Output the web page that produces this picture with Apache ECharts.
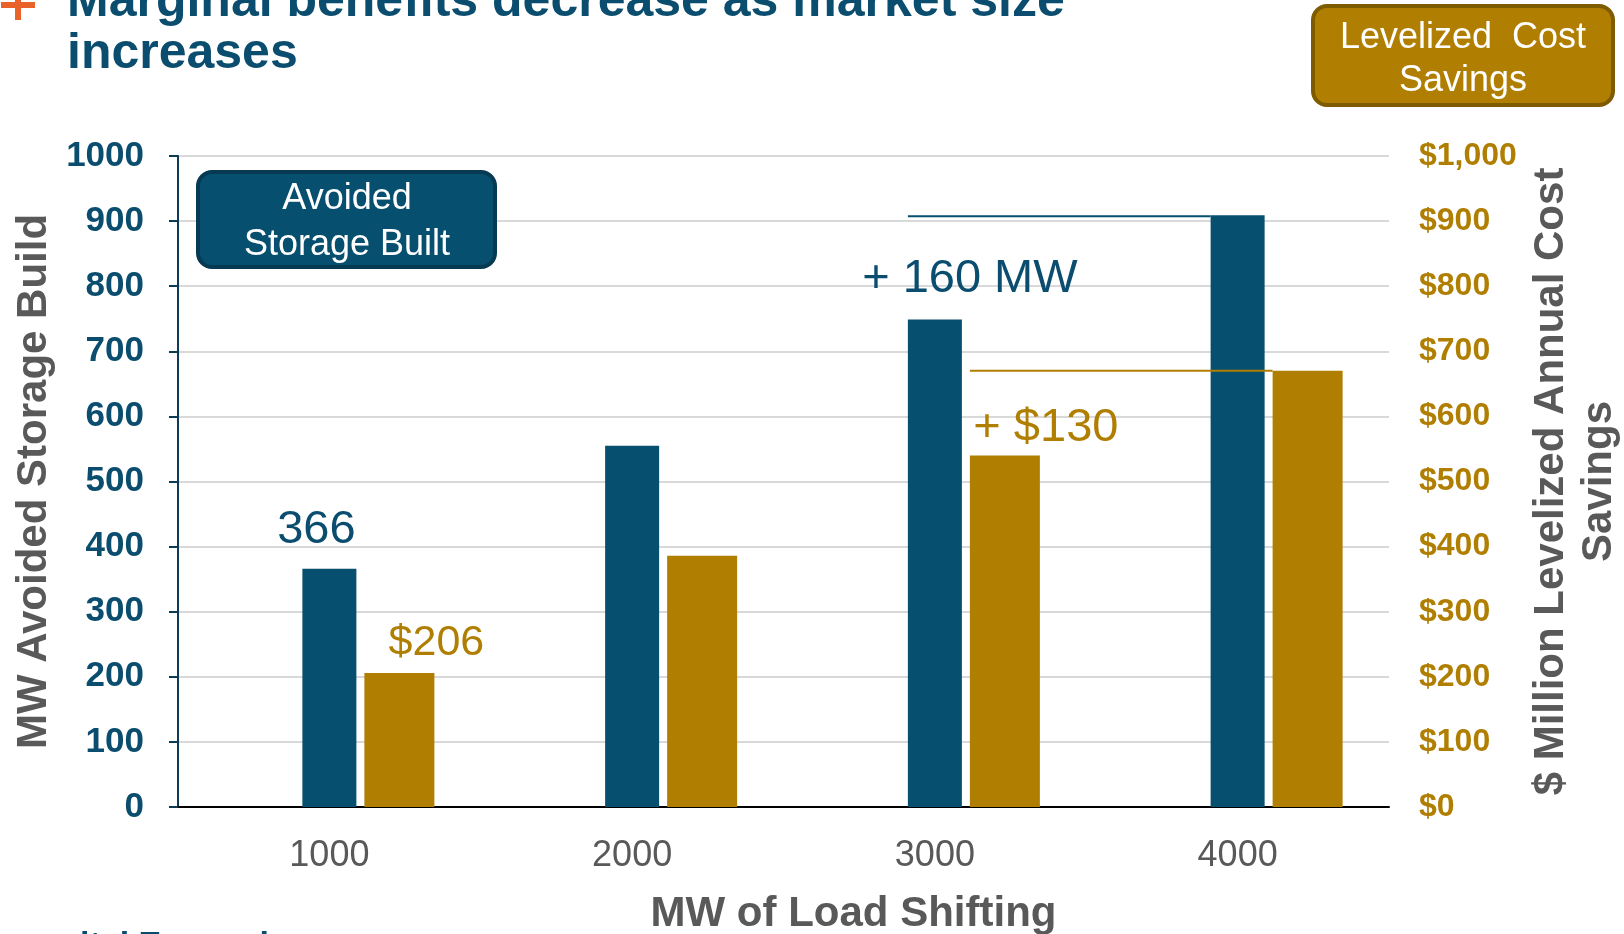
<!DOCTYPE html>
<html><head><meta charset="utf-8">
<script src="https://cdn.jsdelivr.net/npm/echarts@6/dist/echarts.min.js"></script>
<style>html,body{margin:0;padding:0;background:#fff}#c{width:1624px;height:934px}</style>
</head><body><div id="c"></div>
<script>
// ---- data ----
const categories = ['1000', '2000', '3000', '4000'];
const storageMW = [366, 555, 749, 909];      // MW avoided storage build (left axis)
const savingsM = [206, 386, 540, 670];       // $ million levelized annual cost savings (right axis)
const yMin = 0, yMax = 1000, yStep = 100;
const titleText = 'Marginal benefits decrease as market size\nincreases';
const xName = 'MW of Load Shifting';
const yLeftName = 'MW Avoided Storage Build';
const yRightName = '$ Million Levelized Annual Cost\nSavings';
const legendBlue = 'Avoided\nStorage Built';
const legendGold = 'Levelized  Cost\nSavings';
const footText = 'ital Expansion';

// ---- style ----
const BLUE = '#064f6f', GOLD = '#b07e00', GRAY = '#595959', TEAL = '#0a4d6e';
const FONT = 'Liberation Sans, Arial, sans-serif';
const BLUE_W = 54, GOLD_W = 70, GAP = 8;
const gapPct = GAP / BLUE_W;
const SPACER_W = 78 / (1 + gapPct);

const chart = echarts.init(document.getElementById('c'), null, {renderer: 'canvas'});

const blueData = storageMW.map((v, i) => {
  if (i === 0) return {value: v, label: {show: true, formatter: String(v), offset: [-13, 0], distance: 15}};
  if (i === 2) return {value: v, label: {show: true, formatter: '+ ' + (storageMW[3] - storageMW[2]) + ' MW', offset: [35, 0], distance: 17}};
  return v;
});
const goldData = savingsM.map((v, i) => {
  if (i === 0) return {value: v, label: {show: true, formatter: '$' + v, offset: [37, 0], distance: 8, fontSize: 43}};
  if (i === 2) return {value: v, label: {show: true, formatter: '+ $' + (savingsM[3] - savingsM[2]), offset: [41, 0], distance: 4}};
  return v;
});

const option = {
  animation: false,
  backgroundColor: '#fff',
  title: {
    text: titleText, left: 67, top: -24, padding: 0,
    textStyle: {fontFamily: FONT, fontSize: 50, fontWeight: 'bold', color: TEAL, lineHeight: 52}
  },
  grid: {left: 178, right: 235, top: 156, bottom: 127, containLabel: false, outerBoundsMode: 'none'},
  xAxis: [{
    type: 'category', data: categories,
    axisLine: {show: true, lineStyle: {color: '#000', width: 2}},
    axisTick: {show: false},
    axisLabel: {fontFamily: FONT, fontSize: 36, color: GRAY, margin: 31},
    name: xName, nameLocation: 'middle', nameGap: 86,
    nameTextStyle: {fontFamily: FONT, fontSize: 42, fontWeight: 'bold', color: GRAY, padding: [0, 0, 0, 140]}
  }],
  yAxis: [{
    type: 'value', min: yMin, max: yMax, interval: yStep, position: 'left',
    axisLine: {show: true, lineStyle: {color: '#0d3b56', width: 2}},
    axisTick: {show: true, inside: false, length: 9, lineStyle: {color: '#0d3b56', width: 2}},
    axisLabel: {fontFamily: FONT, fontSize: 35, fontWeight: 'bold', color: TEAL, margin: 34,
      formatter: v => String(v)},
    splitLine: {show: true, lineStyle: {color: '#d9d9d9', width: 2}},
    name: yLeftName, nameLocation: 'middle', nameRotate: 90, nameGap: 114,
    nameTextStyle: {fontFamily: FONT, fontSize: 42, fontWeight: 'bold', color: GRAY}
  }, {
    type: 'value', min: yMin, max: yMax, interval: yStep, position: 'right',
    axisLine: {show: false}, axisTick: {show: false}, splitLine: {show: false},
    axisLabel: {fontFamily: FONT, fontSize: 32, fontWeight: 'bold', color: GOLD, margin: 30,
      formatter: v => '$' + v.toLocaleString('en-US')},
    name: yRightName, nameLocation: 'middle', nameRotate: 90, nameGap: 137,
    nameTextStyle: {fontFamily: FONT, fontSize: 42, fontWeight: 'bold', color: GRAY, lineHeight: 48}
  }],
  series: [{
    name: 'spacer', type: 'bar', xAxisIndex: 0, yAxisIndex: 0,
    data: categories.map(() => '-'), barWidth: SPACER_W, barGap: (gapPct * 100) + '%',
    itemStyle: {color: 'transparent'}, silent: true
  }, {
    name: 'Avoided Storage Built', type: 'bar', xAxisIndex: 0, yAxisIndex: 0,
    data: blueData, barWidth: BLUE_W, barGap: (gapPct * 100) + '%',
    itemStyle: {color: BLUE},
    label: {show: false, position: 'top', fontFamily: FONT, fontSize: 47, color: TEAL}
  }, {
    name: 'Levelized Cost Savings', type: 'bar', xAxisIndex: 0, yAxisIndex: 1,
    data: goldData, barWidth: GOLD_W, barGap: (gapPct * 100) + '%',
    itemStyle: {color: GOLD},
    label: {show: false, position: 'top', fontFamily: FONT, fontSize: 47, color: GOLD}
  }],
  graphic: [
    {type: 'rect', id: 'plusH', shape: {x: 1, y: 2, width: 34, height: 6}, style: {fill: '#e8622a'}, z: 100},
    {type: 'rect', id: 'plusV', shape: {x: 15, y: 0, width: 6, height: 20}, style: {fill: '#e8622a'}, z: 100},
    {type: 'rect', id: 'boxBlue', shape: {x: 198, y: 172, width: 297, height: 95, r: 14},
      style: {fill: BLUE, stroke: '#053a52', lineWidth: 4}, z: 100},
    {type: 'text', id: 'boxBlueText', x: 347, y: 222.5, z: 101,
      style: {text: legendBlue, fill: '#fff', font: '36px ' + FONT, lineHeight: 46, align: 'center', verticalAlign: 'middle'}},
    {type: 'rect', id: 'boxGold', shape: {x: 1313, y: 6, width: 300, height: 99, r: 14},
      style: {fill: GOLD, stroke: '#7f5b00', lineWidth: 4}, z: 100},
    {type: 'text', id: 'boxGoldText', x: 1463, y: 59.5, z: 101,
      style: {text: legendGold, fill: '#fff', font: '36px ' + FONT, lineHeight: 43, align: 'center', verticalAlign: 'middle'}},
    {type: 'text', id: 'foot', x: 80, y: 929, z: 101,
      style: {text: footText, fill: TEAL, font: 'bold 34px ' + FONT, align: 'left', verticalAlign: 'top'}}
  ]
};
chart.setOption(option);

// difference lines, anchored to the data through the axes
const x3 = chart.convertToPixel({xAxisIndex: 0}, categories[2]);
const x4 = chart.convertToPixel({xAxisIndex: 0}, categories[3]);
const yB = chart.convertToPixel({yAxisIndex: 0}, storageMW[3]);
const yG = chart.convertToPixel({yAxisIndex: 1}, savingsM[3]);
const goldOff = BLUE_W / 2 + GAP;
chart.setOption({graphic: [
  {type: 'line', id: 'lineBlue', z: 100, shape: {x1: x3 - BLUE_W / 2, y1: yB + 1, x2: x4 - BLUE_W / 2, y2: yB + 1},
    style: {stroke: BLUE, lineWidth: 2}},
  {type: 'line', id: 'lineGold', z: 100, shape: {x1: x3 + goldOff, y1: yG, x2: x4 + goldOff, y2: yG},
    style: {stroke: GOLD, lineWidth: 2}}
]});
</script>
</body></html>
